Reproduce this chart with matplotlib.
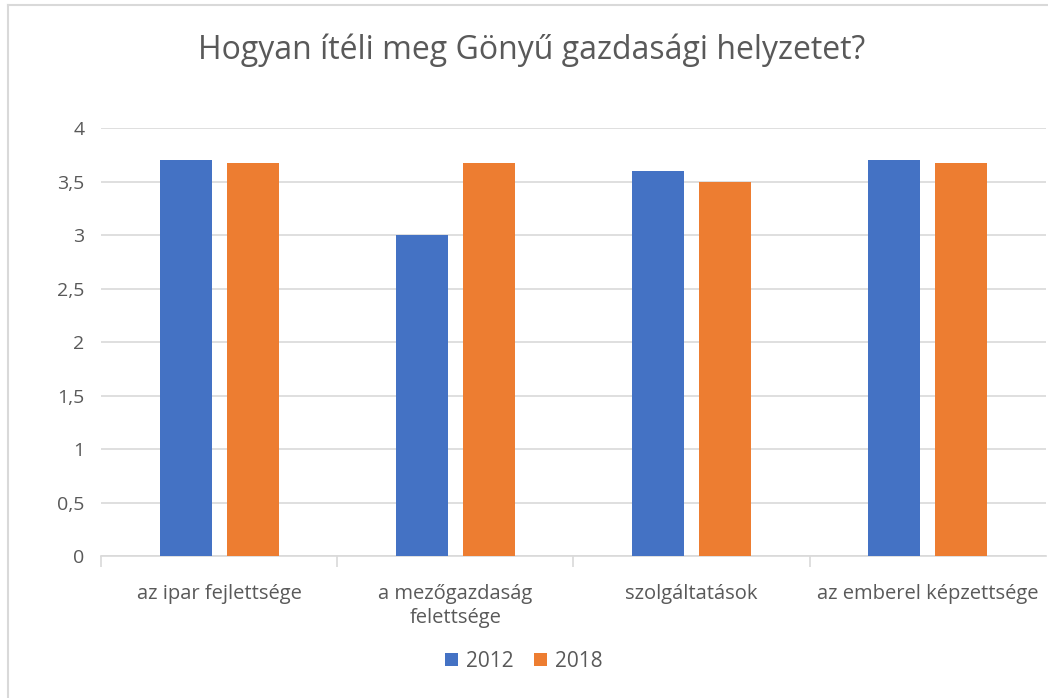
import numpy as np
import matplotlib.pyplot as plt
from matplotlib.lines import Line2D

categories = ["az ipar fejlettsége", "a mezőgazdaság\nfelettsége", "szolgáltatások", "az emberel képzettsége"]
series_names = ["2012", "2018"]
values_2012 = [3.70, 3.00, 3.60, 3.70]
values_2018 = [3.67, 3.67, 3.50, 3.67]
y_ticks = [0, 0.5, 1, 1.5, 2, 2.5, 3, 3.5, 4]
y_tick_labels = ["0", "0,5", "1", "1,5", "2", "2,5", "3", "3,5", "4"]

plt.rcParams["font.family"] = ["Open Sans", "DejaVu Sans"]
text_color = "#595959"
grid_color = "#d9d9d9"
blue = "#4472c4"
orange = "#ed7d31"

fig = plt.figure(figsize=(10.48, 6.98), dpi=100)
ax = fig.add_axes([0.0964, 0.2034, 0.9016, 0.6132])

x = np.arange(len(categories))
w = 0.22
ax.bar(x - 0.142, values_2012, w, color=blue, label=series_names[0], zorder=3)
ax.bar(x + 0.142, values_2018, w, color=orange, label=series_names[1], zorder=3)

ax.set_xlim(-0.5, len(categories) - 0.5)
ax.set_ylim(0, 4)
ax.set_yticks(y_ticks)
ax.set_yticklabels(y_tick_labels)
ax.yaxis.grid(True, color=grid_color, linewidth=1.2, zorder=0)
ax.tick_params(axis="y", length=0, labelsize=14, labelcolor=text_color, pad=12)

# category labels centered, tick marks on boundaries
ax.set_xticks(x)
ax.set_xticklabels(categories, fontsize=14.5, color=text_color, linespacing=1.25)
ax.tick_params(axis="x", length=0, pad=20)
ax.set_xticks(np.arange(len(categories)) - 0.5, minor=True)
ax.tick_params(axis="x", which="minor", length=8, color=grid_color, width=1.2)

for s in ["top", "right", "left"]:
    ax.spines[s].set_visible(False)
ax.spines["bottom"].set_color(grid_color)
ax.spines["bottom"].set_linewidth(1.2)

fig.text(0.507, 0.928, "Hogyan ítéli meg Gönyű gazdasági helyzetet?",
         ha="center", va="center", fontsize=23, color=text_color)

fig.legend(loc="center", bbox_to_anchor=(0.5, 0.052), ncol=2, frameon=False,
           fontsize=15, labelcolor=text_color, handlelength=0.6, handleheight=0.6,
           handletextpad=0.4, columnspacing=1.0)

# outer chart frame (cropped on right and bottom)
fig.add_artist(Line2D([8 / 1048, 8 / 1048], [0, 1 - 5 / 698], transform=fig.transFigure, color=grid_color, linewidth=1.5))
fig.add_artist(Line2D([8 / 1048, 1], [1 - 5 / 698, 1 - 5 / 698], transform=fig.transFigure, color=grid_color, linewidth=1.5))

fig.savefig("out.png", dpi=100)
